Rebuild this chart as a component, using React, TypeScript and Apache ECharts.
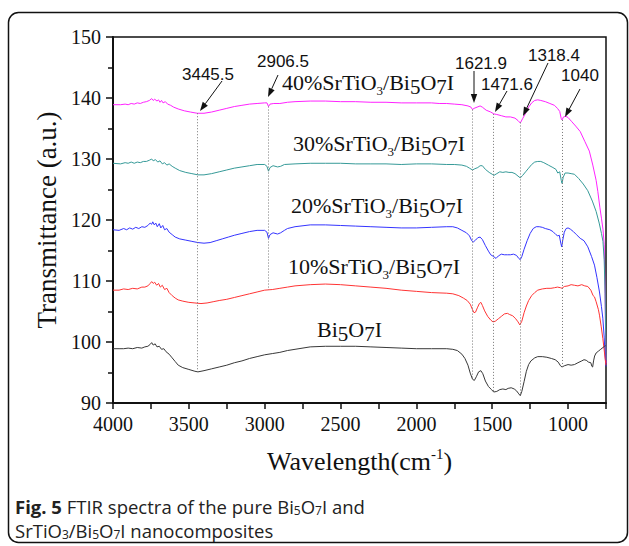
import React, { useEffect, useRef } from 'react';
import * as echarts from 'echarts';

// ---------- DATA ----------
const xTicks = [4000, 3500, 3000, 2500, 2000, 1500, 1000];
const yTicks = [90, 100, 110, 120, 130, 140, 150];

const seriesNames = ['40%SrTiO3/Bi5O7I', '30%SrTiO3/Bi5O7I', '20%SrTiO3/Bi5O7I', '10%SrTiO3/Bi5O7I', 'Bi5O7I'];
const seriesColors = ['#ff22ff', '#369a98', '#3434ff', '#ff3434', '#383838'];

const s40: [number, number][] = [
  [4000, 138.9], [3950, 138.9], [3920, 139.0], [3900, 138.9], [3880, 139.1], [3860, 139.0], [3840, 139.2],
  [3820, 139.1], [3800, 139.3], [3780, 139.4], [3760, 139.6], [3745, 139.9], [3735, 139.6], [3725, 139.8],
  [3710, 139.5], [3700, 139.7], [3690, 139.3], [3680, 139.6], [3670, 139.2], [3655, 139.4], [3640, 139.0],
  [3620, 138.8], [3600, 138.5], [3570, 138.2], [3530, 137.9], [3490, 137.7], [3445, 137.5], [3400, 137.5],
  [3350, 137.7], [3300, 138.0], [3250, 138.3], [3200, 138.6], [3150, 138.8], [3100, 139.0], [3050, 139.1],
  [3000, 139.2], [2985, 139.2], [2975, 138.6], [2965, 139.0], [2940, 139.1], [2900, 139.1], [2850, 139.3],
  [2800, 139.4], [2700, 139.5], [2600, 139.5], [2500, 139.4], [2400, 139.4], [2300, 139.3], [2200, 139.3],
  [2100, 139.2], [2000, 139.2], [1900, 139.2], [1850, 139.1], [1800, 139.1], [1750, 139.0], [1700, 138.9],
  [1660, 138.7], [1640, 138.5], [1630, 138.1], [1620, 138.3], [1600, 138.5], [1580, 138.7], [1565, 138.5],
  [1540, 138.0], [1510, 137.7], [1490, 137.4], [1470, 137.3], [1440, 137.1], [1410, 136.9], [1380, 136.9],
  [1350, 136.7], [1330, 136.3], [1315, 135.9], [1300, 136.6], [1280, 137.5], [1260, 138.5], [1240, 139.2],
  [1220, 139.6], [1200, 139.7], [1180, 139.6], [1150, 139.4], [1120, 139.1], [1090, 138.8], [1070, 138.3],
  [1055, 137.8], [1045, 136.6], [1040, 136.4], [1030, 136.9], [1015, 137.0], [1000, 136.8], [975, 136.1],
  [950, 135.4], [920, 134.5], [890, 132.9], [860, 131.3], [837, 129.0], [815, 126.5], [804, 124.7],
  [790, 122.0], [780, 120.3], [770, 118.5], [762, 116.0], [756, 108.0], [752, 100.0], [750, 96.5],
];

const s30: [number, number][] = [
  [4000, 129.3], [3950, 129.2], [3920, 129.4], [3900, 129.3], [3880, 129.5], [3860, 129.3], [3840, 129.5],
  [3820, 129.4], [3800, 129.6], [3780, 129.6], [3760, 129.8], [3745, 130.0], [3735, 129.7], [3720, 129.9],
  [3705, 129.5], [3690, 129.7], [3675, 129.2], [3660, 129.4], [3645, 129.0], [3630, 129.2], [3610, 128.8],
  [3590, 128.5], [3560, 128.1], [3520, 127.8], [3480, 127.6], [3440, 127.4], [3400, 127.4], [3350, 127.6],
  [3300, 127.9], [3250, 128.2], [3200, 128.5], [3150, 128.7], [3100, 128.9], [3050, 129.1], [3000, 129.1],
  [2985, 128.8], [2975, 128.0], [2965, 128.6], [2945, 128.9], [2915, 128.7], [2895, 128.8], [2870, 129.1],
  [2800, 129.2], [2700, 129.3], [2600, 129.3], [2500, 129.3], [2400, 129.2], [2300, 129.2], [2200, 129.2],
  [2100, 129.1], [2000, 129.2], [1900, 129.2], [1800, 129.1], [1750, 129.1], [1700, 129.0], [1670, 128.8],
  [1650, 128.5], [1630, 128.2], [1615, 128.4], [1595, 128.6], [1580, 128.9], [1565, 128.9], [1545, 128.3],
  [1520, 127.8], [1500, 127.5], [1490, 127.3], [1470, 127.6], [1450, 127.9], [1430, 127.8], [1410, 127.9],
  [1390, 127.8], [1370, 127.8], [1350, 127.6], [1330, 127.2], [1315, 126.9], [1300, 127.3], [1280, 127.9],
  [1260, 128.5], [1240, 129.1], [1220, 129.5], [1200, 129.6], [1180, 129.6], [1160, 129.4], [1130, 129.0],
  [1100, 128.6], [1080, 128.3], [1068, 127.7], [1055, 127.9], [1045, 126.5], [1040, 126.0], [1032, 127.0],
  [1020, 127.7], [1000, 127.7], [980, 127.6], [958, 127.5], [930, 126.8], [900, 125.9], [870, 124.8],
  [840, 123.1], [815, 121.4], [795, 119.5], [780, 117.8], [770, 116.5], [762, 113.5], [756, 108.0],
  [752, 101.0], [750, 97.0],
];

const s20: [number, number][] = [
  [4000, 118.4], [3960, 118.3], [3930, 118.6], [3910, 118.4], [3890, 118.7], [3870, 118.5], [3850, 118.8],
  [3830, 118.6], [3810, 118.9], [3790, 118.8], [3770, 119.1], [3755, 119.5], [3745, 119.3], [3738, 119.7],
  [3728, 119.2], [3718, 119.5], [3708, 118.9], [3695, 119.4], [3685, 118.7], [3672, 119.1], [3660, 118.4],
  [3645, 118.6], [3630, 118.0], [3610, 117.6], [3590, 117.2], [3560, 116.9], [3520, 116.7], [3480, 116.5],
  [3440, 116.3], [3400, 116.2], [3360, 116.3], [3320, 116.6], [3280, 116.9], [3240, 117.2], [3200, 117.5],
  [3150, 117.8], [3100, 118.1], [3050, 118.3], [3000, 118.3], [2985, 118.0], [2975, 117.0], [2965, 117.6],
  [2945, 117.9], [2915, 117.7], [2895, 117.9], [2870, 118.3], [2850, 118.6], [2800, 118.9], [2700, 119.2],
  [2600, 119.2], [2500, 119.1], [2400, 119.0], [2300, 118.9], [2200, 118.8], [2100, 118.7], [2000, 118.7],
  [1900, 118.8], [1800, 118.9], [1760, 118.9], [1730, 118.7], [1700, 118.3], [1670, 117.9], [1650, 117.4],
  [1635, 116.6], [1625, 116.4], [1610, 116.7], [1595, 117.1], [1580, 117.2], [1565, 116.8], [1545, 115.8],
  [1525, 114.9], [1510, 114.3], [1490, 114.0], [1475, 113.7], [1460, 114.1], [1440, 114.4], [1420, 114.3],
  [1400, 114.3], [1380, 114.3], [1360, 114.4], [1340, 114.2], [1325, 113.7], [1315, 113.5], [1305, 114.0],
  [1290, 115.2], [1270, 116.6], [1250, 117.8], [1230, 118.6], [1210, 118.9], [1190, 118.9], [1170, 118.8],
  [1150, 118.6], [1120, 118.4], [1100, 118.1], [1080, 117.6], [1068, 117.4], [1058, 117.5], [1048, 116.2],
  [1042, 115.6], [1035, 116.7], [1025, 118.0], [1013, 118.6], [1000, 118.7], [985, 118.5], [965, 118.1],
  [945, 117.6], [920, 117.0], [895, 116.6], [870, 115.6], [845, 114.0], [826, 112.6], [810, 110.6],
  [793, 108.2], [780, 105.8], [771, 103.9], [762, 100.8], [756, 97.9], [750, 96.0],
];

const s10: [number, number][] = [
  [4000, 108.5], [3960, 108.5], [3930, 108.7], [3900, 108.6], [3870, 108.8], [3840, 108.7], [3810, 109.0],
  [3790, 109.0], [3770, 109.2], [3755, 109.6], [3745, 109.9], [3735, 109.6], [3725, 109.8], [3712, 109.3],
  [3700, 109.6], [3688, 109.0], [3675, 109.3], [3660, 108.6], [3645, 108.8], [3630, 108.1], [3610, 107.6],
  [3590, 107.2], [3570, 106.9], [3540, 106.7], [3500, 106.5], [3460, 106.4], [3420, 106.3], [3380, 106.4],
  [3340, 106.6], [3300, 106.8], [3250, 107.0], [3200, 107.3], [3150, 107.6], [3100, 107.9], [3050, 108.2],
  [3000, 108.5], [2950, 108.6], [2900, 108.8], [2850, 109.0], [2800, 109.2], [2700, 109.4], [2600, 109.5],
  [2500, 109.4], [2400, 109.2], [2300, 109.0], [2200, 108.8], [2100, 108.5], [2000, 108.3], [1900, 108.1],
  [1800, 108.0], [1760, 107.9], [1720, 107.6], [1690, 107.2], [1665, 106.8], [1645, 106.2], [1630, 105.3],
  [1620, 104.8], [1610, 104.9], [1598, 105.6], [1585, 106.3], [1575, 106.5], [1565, 106.0], [1550, 105.1],
  [1530, 104.2], [1510, 103.6], [1495, 103.3], [1480, 103.4], [1460, 103.8], [1440, 104.2], [1420, 104.6],
  [1400, 104.7], [1385, 104.5], [1365, 104.3], [1345, 103.8], [1330, 103.3], [1318, 102.8], [1305, 103.4],
  [1290, 104.8], [1275, 105.9], [1260, 106.8], [1240, 107.6], [1220, 108.1], [1200, 108.5], [1170, 108.7],
  [1140, 108.8], [1113, 108.8], [1090, 108.9], [1070, 109.0], [1050, 108.9], [1040, 108.8], [1025, 109.1],
  [1000, 109.2], [980, 109.4], [958, 109.3], [935, 109.2], [910, 109.4], [890, 109.2], [870, 109.1],
  [850, 108.5], [835, 107.6], [826, 107.4], [815, 106.6], [800, 105.3], [793, 104.4], [782, 102.6],
  [771, 100.6], [762, 98.7], [755, 97.1], [750, 96.2],
];

const s0: [number, number][] = [
  [4000, 98.9], [3960, 98.9], [3930, 98.9], [3900, 99.0], [3870, 98.9], [3840, 99.1], [3810, 99.0],
  [3790, 99.2], [3770, 99.3], [3755, 99.6], [3745, 99.9], [3735, 99.5], [3722, 99.7], [3710, 99.2],
  [3695, 99.3], [3680, 98.8], [3665, 98.9], [3650, 98.4], [3630, 98.0], [3610, 97.4], [3590, 96.8],
  [3570, 96.2], [3540, 95.8], [3500, 95.5], [3460, 95.2], [3440, 95.1], [3400, 95.3], [3350, 95.6],
  [3300, 95.9], [3250, 96.2], [3200, 96.6], [3150, 96.9], [3100, 97.3], [3050, 97.6], [3000, 97.9],
  [2950, 98.1], [2900, 98.3], [2850, 98.6], [2800, 98.8], [2700, 99.2], [2600, 99.3], [2500, 99.3],
  [2400, 99.3], [2300, 99.2], [2200, 99.1], [2100, 99.0], [2000, 98.9], [1900, 98.9], [1800, 98.9],
  [1760, 98.8], [1730, 98.6], [1700, 98.0], [1680, 97.3], [1660, 96.2], [1645, 94.9], [1630, 93.9],
  [1618, 93.7], [1605, 94.3], [1590, 95.1], [1575, 95.3], [1562, 94.8], [1545, 93.6], [1525, 92.7],
  [1505, 92.2], [1490, 91.8], [1470, 91.9], [1450, 92.2], [1430, 92.3], [1410, 92.2], [1395, 92.4],
  [1375, 92.5], [1355, 92.3], [1340, 92.0], [1325, 91.5], [1315, 91.2], [1305, 91.9], [1290, 93.5],
  [1275, 95.2], [1260, 96.3], [1245, 96.9], [1220, 97.4], [1200, 97.6], [1170, 97.6], [1140, 97.5],
  [1110, 97.3], [1085, 97.1], [1065, 96.7], [1050, 96.1], [1040, 95.9], [1025, 96.1], [1000, 96.3],
  [980, 96.2], [958, 96.3], [935, 96.6], [910, 96.9], [895, 97.1], [880, 97.0], [865, 96.7], [850, 96.6],
  [843, 96.0], [838, 95.9], [832, 96.9], [825, 97.7], [815, 98.2], [800, 98.5], [785, 98.8], [770, 99.1],
  [760, 99.3], [752, 99.4], [750, 99.3],
];

const allSeries = [s40, s30, s20, s10, s0];

// peak annotations
const peakLabels = ['3445.5', '2906.5', '1621.9', '1471.6', '1318.4', '1040'];
const peakLinePos = [3445.5, 2975, 1630, 1490, 1318.4, 1040];
const peakLineBottomSeries = [4, 3, 4, 4, 4, 4];

// ---------- helpers ----------
function valueAt(data: [number, number][], x: number): number {
  for (let i = 0; i < data.length - 1; i++) {
    const [x1, y1] = data[i];
    const [x2, y2] = data[i + 1];
    if ((x <= x1 && x >= x2) || (x >= x1 && x <= x2)) {
      if (x1 === x2) return y1;
      return y1 + ((x - x1) / (x2 - x1)) * (y2 - y1);
    }
  }
  return data[data.length - 1][1];
}

// layout (pixels) for annotations
const peakLabelPos = [
  [208, 74], [283, 61], [481, 63], [507, 84], [554, 55], [580, 75],
];
const arrowPos = [
  [222, 81, 200, 111],
  [278, 75, 268, 97],
  [474, 71, 474, 103],
  [507, 91, 495, 112],
  [548, 63, 523, 116],
  [580, 89, 565, 117],
];
const seriesLabelPos = [
  [282, 82], [293, 143], [291, 205], [288, 266], [317, 329],
];

const SERIF = 'Liberation Serif';
const SANS = 'Liberation Sans';
const CAP = 'Open Sans';

const richSerif = {
  n: { fontFamily: SERIF, fontSize: 22, lineHeight: 30, fill: '#111' },
  s: { fontFamily: SERIF, fontSize: 13, lineHeight: 30, padding: [16, 0, 0, 0], fill: '#111' },
  o: { fontFamily: SERIF, fontSize: 21, lineHeight: 30, padding: [9, 0, 0, 0], fill: '#111' },
};

function seriesLabelText(i: number): string {
  const name = seriesNames[i];
  if (name.indexOf('SrTiO3') >= 0) {
    const pct = name.split('SrTiO3')[0];
    return `{n|${pct}SrTiO}{s|3}{n|/Bi}{o|5}{n|O}{o|7}{n|I}`;
  }
  return '{n|Bi}{o|5}{n|O}{o|7}{n|I}';
}

function arrowElements(a: number[]) {
  const [x1, y1, x2, y2] = a;
  const dx = x2 - x1;
  const dy = y2 - y1;
  const len = Math.sqrt(dx * dx + dy * dy);
  const ux = dx / len;
  const uy = dy / len;
  const hl = 9;
  const hw = 3.2;
  const bx = x2 - ux * hl;
  const by = y2 - uy * hl;
  const nx = -uy;
  const ny = ux;
  return [
    {
      type: 'line',
      shape: { x1, y1, x2: bx, y2: by },
      style: { stroke: '#111', lineWidth: 1 },
      silent: true,
    },
    {
      type: 'polygon',
      shape: {
        points: [
          [x2, y2],
          [bx + nx * hw, by + ny * hw],
          [bx - nx * hw, by - ny * hw],
        ],
      },
      style: { fill: '#111', stroke: 'none' },
      silent: true,
    },
  ];
}

export default function App() {
  const ref = useRef<HTMLDivElement>(null);

  useEffect(() => {
    if (!ref.current) return;
    const chart = echarts.init(ref.current, null, { renderer: 'svg' });

    const lineSeries: any[] = allSeries.map((d, i) => ({
      type: 'line',
      name: seriesNames[i],
      data: d,
      showSymbol: false,
      symbol: 'none',
      lineStyle: { color: seriesColors[i], width: 1 },
      itemStyle: { color: seriesColors[i] },
      z: 3,
    }));

    const markData = peakLinePos.map((x, i) => [
      { coord: [x, valueAt(allSeries[0], x)] },
      { coord: [x, valueAt(allSeries[peakLineBottomSeries[i]], x)] },
    ]);

    lineSeries.push({
      type: 'line',
      name: 'guides',
      data: [],
      silent: true,
      z: 2,
      markLine: {
        silent: true,
        symbol: ['none', 'none'],
        label: { show: false },
        lineStyle: { color: '#777', width: 1, type: [1, 2] },
        data: markData,
        animation: false,
      },
    });

    const graphics: any[] = [];
    graphics.push({
      type: 'rect',
      shape: { x: 8.5, y: 12.5, width: 619, height: 530, r: 10 },
      style: { fill: 'none', stroke: '#111', lineWidth: 1.5 },
      silent: true,
      z: 0,
    });
    peakLabels.forEach((t, i) => {
      graphics.push({
        type: 'text',
        x: peakLabelPos[i][0],
        y: peakLabelPos[i][1],
        style: {
          text: t,
          fontFamily: SANS,
          fontSize: 17,
          fill: '#111',
          align: 'center',
          verticalAlign: 'middle',
        },
        silent: true,
        z: 10,
      });
      arrowElements(arrowPos[i]).forEach((e) => graphics.push({ ...e, z: 10 }));
    });
    seriesNames.forEach((_, i) => {
      graphics.push({
        type: 'text',
        x: seriesLabelPos[i][0],
        y: seriesLabelPos[i][1],
        style: {
          text: seriesLabelText(i),
          rich: richSerif,
          fontFamily: SERIF,
          fontSize: 22,
          fill: '#111',
          align: 'left',
          verticalAlign: 'middle',
        },
        silent: true,
        z: 10,
      });
    });
    const capRich = {
      b: { fontFamily: CAP, fontSize: 18.5, fontWeight: 'bold', fill: '#222', lineHeight: 22 },
      t: { fontFamily: CAP, fontSize: 18.5, fill: '#222', lineHeight: 22 },
      sb: { fontFamily: CAP, fontSize: 12, padding: [8, 0, 0, 0], fill: '#222', lineHeight: 22 },
    };
    graphics.push({
      type: 'text',
      x: 15,
      y: 506,
      style: {
        text: '{b|Fig. 5}{t| FTIR spectra of the pure Bi}{sb|5}{t|O}{sb|7}{t|I and}',
        rich: capRich,
        fontFamily: CAP,
        fontSize: 18.5,
        fill: '#222',
        align: 'left',
        verticalAlign: 'middle',
      },
      silent: true,
    });
    graphics.push({
      type: 'text',
      x: 15,
      y: 530,
      style: {
        text: '{t|SrTiO}{sb|3}{t|/Bi}{sb|5}{t|O}{sb|7}{t|I nanocomposites}',
        rich: capRich,
        fontFamily: CAP,
        fontSize: 18.5,
        fill: '#222',
        align: 'left',
        verticalAlign: 'middle',
      },
      silent: true,
    });

    const option: any = {
      animation: false,
      backgroundColor: '#fff',
      textStyle: { fontFamily: SERIF },
      grid: {
        left: 113,
        right: 23,
        top: 37,
        bottom: 143,
        show: true,
        borderColor: '#111',
        borderWidth: 1.5,
        backgroundColor: 'transparent',
      },
      xAxis: {
        type: 'value',
        inverse: true,
        min: 750,
        max: 4000,
        interval: 250,
        name: 'Wavelength(cm{sup|-1})',
        nameLocation: 'middle',
        nameGap: 43,
        nameTextStyle: {
          fontFamily: SERIF,
          fontSize: 26,
          color: '#111',
          rich: {
            sup: { fontFamily: SERIF, fontSize: 15, padding: [0, 0, 16, 0], color: '#111' },
          },
        },
        axisLine: { show: true, onZero: false, lineStyle: { color: '#111', width: 2 } },
        axisTick: { show: true, inside: false, length: 6, lineStyle: { color: '#111', width: 1.5 } },
        axisLabel: {
          show: true,
          margin: 11,
          fontFamily: SERIF,
          fontSize: 20,
          color: '#111',
          showMinLabel: true,
          showMaxLabel: true,
          formatter: (v: number) => (xTicks.indexOf(v) >= 0 ? String(v) : ''),
        },
        splitLine: { show: false },
      },
      yAxis: {
        type: 'value',
        min: yTicks[0],
        max: yTicks[yTicks.length - 1],
        interval: 10,
        name: 'Transmittance (a.u.)',
        nameLocation: 'middle',
        nameGap: 52,
        nameTextStyle: { fontFamily: SERIF, fontSize: 27, color: '#111' },
        axisLine: { show: true, onZero: false, lineStyle: { color: '#111', width: 2 } },
        axisTick: { show: true, inside: false, length: 7, lineStyle: { color: '#111', width: 1.5 } },
        minorTick: { show: true, splitNumber: 2, length: 5, lineStyle: { color: '#111', width: 1.5 } },
        axisLabel: {
          margin: 12,
          fontFamily: SERIF,
          fontSize: 20,
          color: '#111',
        },
        splitLine: { show: false },
        minorSplitLine: { show: false },
      },
      series: lineSeries,
      graphic: graphics,
    };

    chart.setOption(option);
    return () => {
      chart.dispose();
    };
  }, []);

  return (
    <div
      ref={ref}
      style={{ position: 'fixed', left: 0, top: 0, width: 629, height: 546, background: '#fff' }}
    />
  );
}
